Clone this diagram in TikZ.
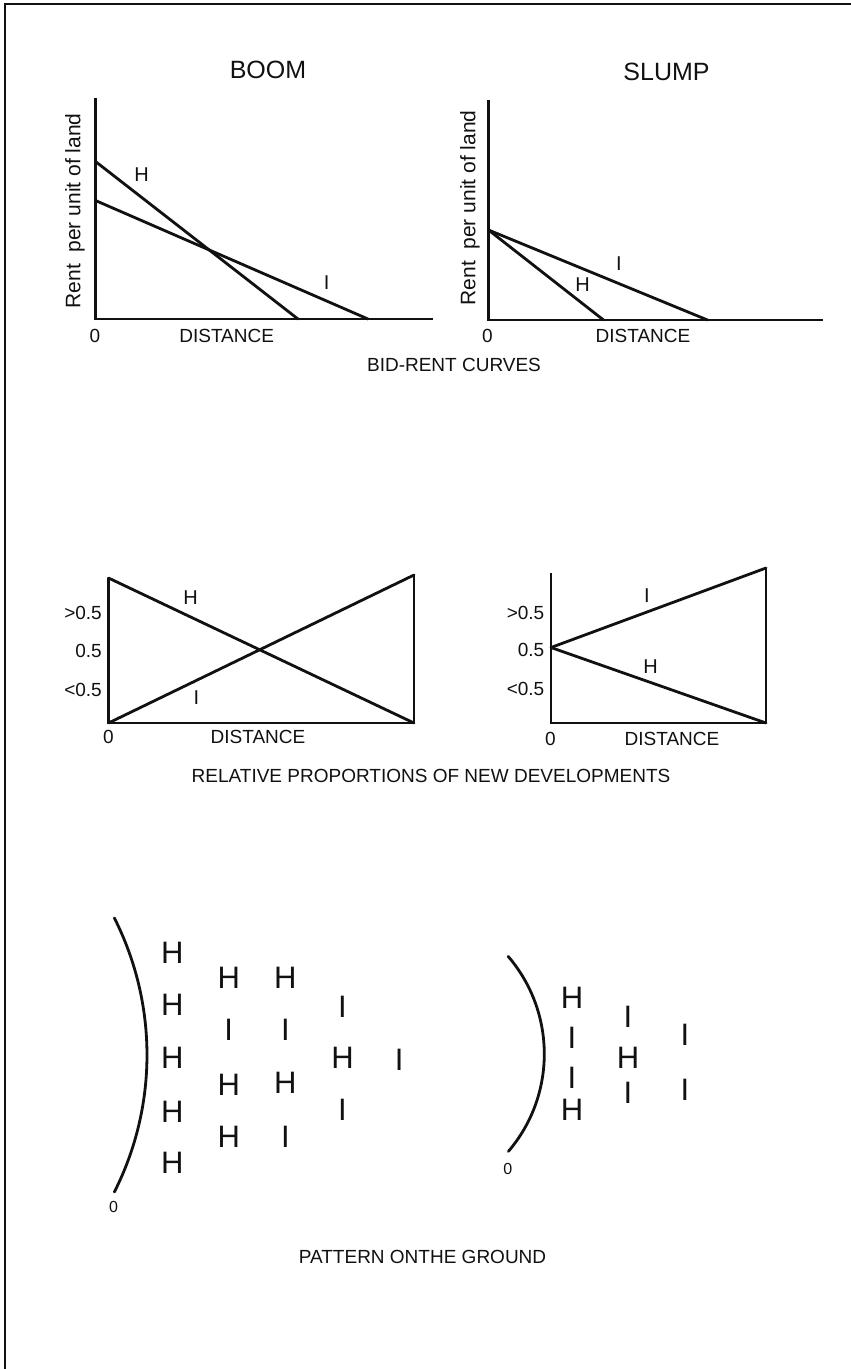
\documentclass[tikz,border=0pt]{standalone}
\usepackage{fontspec}
\setmainfont{Liberation Sans}
\definecolor{inkblack}{HTML}{111111}

\begin{document}
\begin{tikzpicture}[
    x=1pt, y=-1pt,
    every node/.style={font=\fontsize{19}{19}\selectfont, text=inkblack, inner sep=0pt},
    ttl/.style={font=\fontsize{25}{25}\selectfont},
    rentlbl/.style={font=\fontsize{21}{21}\selectfont, rotate=90},
    curvelbl/.style={font=\fontsize{20}{20}\selectfont},
    cell/.style={font=\fontsize{31}{31}\selectfont},
    zerolbl/.style={font=\fontsize{16}{16}\selectfont},
    axisline/.style={draw=inkblack, line width=2.4pt},
    curveline/.style={draw=inkblack, line width=2.8pt, line cap=round},
]

% Page and frame
\useasboundingbox (0,0) rectangle (851,1369);
\fill[white] (0,0) rectangle (851,1369);
\draw[inkblack, line width=2pt] (5,1369) -- (5,4) -- (851,4);

% === BID-RENT CURVES: BOOM ===
\node[ttl] (boomttl) at (268,70) {BOOM};
\coordinate (b1top) at (95.5,98);
\coordinate (b1o) at (95.5,319);
\coordinate (b1end) at (433,319);
\coordinate (b1h0) at (95.5,161.5);
\coordinate (b1h1) at (298,319);
\coordinate (b1i0) at (95.5,200.5);
\coordinate (b1i1) at (368,319);
\draw[axisline] (b1top) -- (b1o) -- (b1end);
\draw[curveline] (b1h0) -- (b1h1);
\draw[curveline] (b1i0) -- (b1i1);
\node[rentlbl] (b1rent) at (75,211) {Rent\ \ per unit of land};
\node[curvelbl] (b1hl) at (141.7,175) {H};
\node[curvelbl] (b1il) at (326.7,283) {I};
\node (b1zero) at (95,335.5) {0};
\node (b1dist) at (226.7,335.5) {DISTANCE};

% === BID-RENT CURVES: SLUMP ===
\node[ttl] (slumpttl) at (666.5,72) {SLUMP};
\coordinate (b2top) at (488.5,100);
\coordinate (b2o) at (488.5,320);
\coordinate (b2end) at (822.5,320);
\coordinate (b2s) at (488.5,230);
\coordinate (b2h1) at (603.5,320);
\coordinate (b2i1) at (707.5,320);
\draw[axisline] (b2top) -- (b2o) -- (b2end);
\draw[curveline] (b2s) -- (b2h1);
\draw[curveline] (b2s) -- (b2i1);
\node[rentlbl] (b2rent) at (470,208) {Rent\ \ per unit of land};
\node[curvelbl] (b2hl) at (582.7,285) {H};
\node[curvelbl] (b2il) at (619,264) {I};
\node (b2zero) at (487.5,336) {0};
\node (b2dist) at (643,336) {DISTANCE};

\node (bidttl) at (454,365) {BID-RENT CURVES};

% === RELATIVE PROPORTIONS: BOOM ===
\coordinate (r1top) at (108.5,578);
\coordinate (r1o) at (108.5,723);
\coordinate (r1end) at (414,723);
\coordinate (r1rtop) at (414,575);
\draw[axisline] (r1top) -- (r1o) -- (r1end) -- (r1rtop);
\draw[curveline] (r1top) -- (r1end);
\draw[curveline] (r1o) -- (r1rtop);
\node[anchor=east] (r1hi) at (102,613) {>0.5};
\node[anchor=east] (r1mid) at (102,651) {0.5};
\node[anchor=east] (r1lo) at (102,690) {<0.5};
\node[curvelbl] (r1hl) at (190.5,598) {H};
\node[curvelbl] (r1il) at (196.5,697.5) {I};
\node (r1zero) at (108.5,737) {0};
\node (r1dist) at (258,737) {DISTANCE};

% === RELATIVE PROPORTIONS: SLUMP ===
\coordinate (r2top) at (551,573);
\coordinate (r2o) at (551,723);
\coordinate (r2end) at (766,723);
\coordinate (r2rtop) at (766,568);
\coordinate (r2s) at (551,647.5);
\draw[axisline] (r2top) -- (r2o) -- (r2end) -- (r2rtop);
\draw[curveline] (r2s) -- (r2rtop);
\draw[curveline] (r2s) -- (r2end);
\node[anchor=east] (r2hi) at (544.5,613) {>0.5};
\node[anchor=east] (r2mid) at (544.5,650) {0.5};
\node[anchor=east] (r2lo) at (544.5,689) {<0.5};
\node[curvelbl] (r2il) at (647,596) {I};
\node[curvelbl] (r2hl) at (650.5,667) {H};
\node (r2zero) at (550.5,739) {0};
\node (r2dist) at (672,739) {DISTANCE};

\node (relttl) at (431,776) {RELATIVE PROPORTIONS OF NEW DEVELOPMENTS};

% === PATTERN ON THE GROUND: BOOM ===
\coordinate (g1arc) at (-157,1055);
\draw[curveline] (g1arc) ++(-26.8:304) arc[start angle=-26.8, end angle=26.8, radius=304];
\node[zerolbl] (g1zero) at (113.5,1207) {0};
\node[cell] (g1a) at (172.4,953.3) {H};
\node[cell] (g1b) at (172.4,1005) {H};
\node[cell] (g1c) at (172.4,1058.3) {H};
\node[cell] (g1d) at (172.4,1111.7) {H};
\node[cell] (g1e) at (172.4,1163.3) {H};
\node[cell] (g2a) at (228.7,978.3) {H};
\node[cell] (g2b) at (228.7,1030) {I};
\node[cell] (g2c) at (228.7,1085) {H};
\node[cell] (g2d) at (228.7,1136.7) {H};
\node[cell] (g3a) at (285.4,978.3) {H};
\node[cell] (g3b) at (285.4,1030) {I};
\node[cell] (g3c) at (285.4,1083.3) {H};
\node[cell] (g3d) at (285.4,1136.7) {I};
\node[cell] (g4a) at (342.5,1006.7) {I};
\node[cell] (g4b) at (342.5,1058.3) {H};
\node[cell] (g4c) at (342.5,1110) {I};
\node[cell] (g5a) at (399.2,1060) {I};

% === PATTERN ON THE GROUND: SLUMP ===
\coordinate (s1arc) at (394.3,1054);
\draw[curveline] (s1arc) ++(-40.6:150) arc[start angle=-40.6, end angle=40.5, radius=150];
\node[zerolbl] (s1zero) at (507.7,1168.5) {0};
\node[cell] (sa1) at (572,998.3) {H};
\node[cell] (sa2) at (572,1038.3) {I};
\node[cell] (sa3) at (572,1078.3) {I};
\node[cell] (sa4) at (572,1110) {H};
\node[cell] (sb1) at (628,1016.7) {I};
\node[cell] (sb2) at (628,1058.3) {H};
\node[cell] (sb3) at (628,1093.3) {I};
\node[cell] (sc1) at (685,1035) {I};
\node[cell] (sc2) at (685,1090) {I};

\node (patttl) at (422.5,1257) {PATTERN ONTHE GROUND};

\end{tikzpicture}
\end{document}
